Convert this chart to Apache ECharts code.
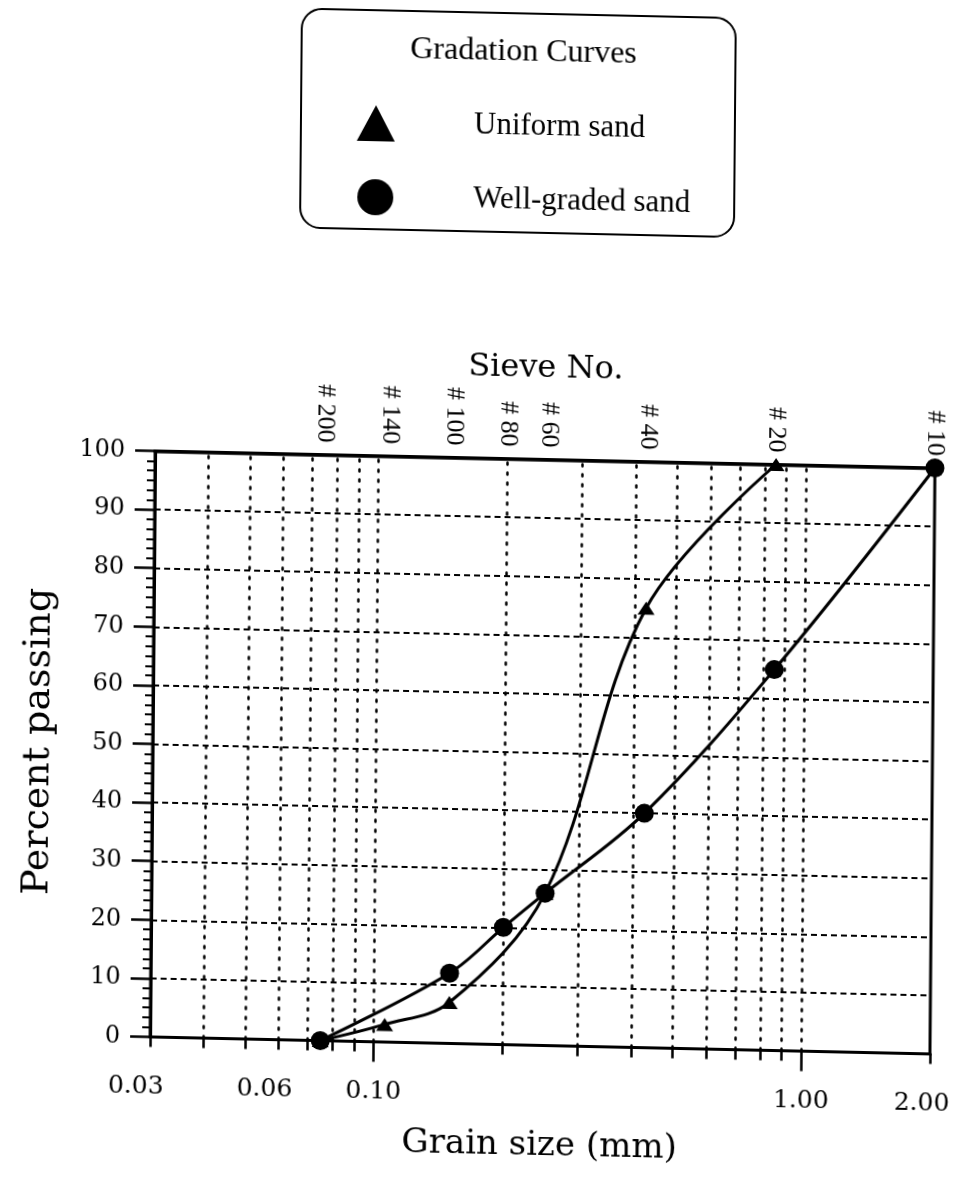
<!DOCTYPE html>
<html>
<head>
<meta charset="utf-8">
<title>Gradation Curves</title>
<script src="https://cdn.jsdelivr.net/npm/echarts@6/dist/echarts.min.js"></script>
<style>
  html, body { margin: 0; padding: 0; background: #fff; overflow: hidden; }
  /* slight tilt, as on the printed sheet */
  #chart { width: 970px; height: 1178px; transform-origin: 0 0; transform: skew(-0.49deg, 1.25deg); }
</style>
</head>
<body>
<div id="chart"></div>
<script>
// Sieve numbers and their openings (mm) along the top axis
const sieveNumbers = ['# 200', '# 140', '# 100', '# 80', '# 60', '# 40', '# 20', '# 10'];
const sieveSizes = [0.075, 0.106, 0.15, 0.2, 0.25, 0.425, 0.85, 2.0];

// Uniform sand: grain size (mm) and percent passing
const uniformSize = [0.075, 0.106, 0.15, 0.25, 0.425, 0.85];
const uniformPassing = [0, 3, 7, 26, 75, 100];

// Well-graded sand: grain size (mm) and percent passing
const wellSize = [0.075, 0.15, 0.2, 0.25, 0.425, 0.85, 2.0];
const wellPassing = [0, 12, 20, 26, 40, 65, 100];

// Grain-size axis labels and ticks
const sizeLabels = [0.03, 0.06, 0.1, 1, 2];
const majorSizeTicks = [0.1, 1];
const minorSizeTicks = [0.03, 0.04, 0.05, 0.06, 0.07, 0.08, 0.09, 0.2, 0.3, 0.4, 0.5, 0.6, 0.7, 0.8, 0.9, 2];
const sizeGridLines = [0.04, 0.05, 0.06, 0.07, 0.08, 0.09, 0.1, 0.2, 0.3, 0.4, 0.5, 0.6, 0.7, 0.8, 0.9, 1];

const SERIF = "'DejaVu Serif', 'Liberation Serif', serif";
const TIMES = "'Liberation Serif', 'DejaVu Serif', serif";

function pairs(xs, ys) { return xs.map((x, i) => [x, ys[i]]); }
function sieveName(v) {
  const i = sieveSizes.findIndex(s => Math.abs(Math.log10(s / v)) < 1e-6);
  return i >= 0 ? sieveNumbers[i] : '';
}
// the small-size labels sit a little left of their ticks, the last one too
function sizeLabel(v) {
  const n = Number(v);
  const key = n < 0.09 ? 'lead' : (n > 1.5 ? 'tail' : 'mid');
  return '{' + key + '|' + n.toFixed(2) + '}';
}
const sizeLabelText = { fontFamily: SERIF, fontSize: 25, color: '#000' };

const logAxisBase = { type: 'log', logBase: 10, min: 0.03, max: 2, gridIndex: 0, splitLine: { show: false } };

const chart = echarts.init(document.getElementById('chart'), null, { renderer: 'canvas' });
chart.setOption({
  animation: false,
  backgroundColor: '#fff',
  title: {
    text: 'Gradation Curves',
    left: 519, top: 20, textAlign: 'center',
    textStyle: { fontFamily: TIMES, fontSize: 32, fontWeight: 'normal', color: '#000' }
  },
  legend: {
    orient: 'vertical', left: 302, top: 2,
    itemWidth: 38, itemHeight: 36, itemGap: 38,
    padding: [95, 44, 14, 56],
    borderColor: '#000', borderWidth: 2, borderRadius: 20,
    selectedMode: false,
    textStyle: { fontFamily: TIMES, fontSize: 31, color: '#000', padding: [0, 0, 0, 74] },
    data: [
      { name: 'Uniform sand', icon: 'triangle' },
      { name: 'Well-graded sand', icon: 'circle' }
    ]
  },
  grid: {
    left: 159, right: 31, top: 447.5, bottom: 144.5,
    outerBoundsMode: 'none', containLabel: false,
    show: true, borderColor: '#000', borderWidth: 3, backgroundColor: 'transparent'
  },
  xAxis: [
    Object.assign({}, logAxisBase, {
      position: 'bottom',
      axisLine: { show: true, lineStyle: { color: '#000', width: 3 } },
      axisTick: { show: true, customValues: minorSizeTicks, length: 10, lineStyle: { color: '#000', width: 2.5 } },
      axisLabel: { show: false },
      name: 'Grain size (mm)', nameLocation: 'middle', nameGap: 84,
      nameTextStyle: { fontFamily: SERIF, fontSize: 34, color: '#000' }
    }),
    Object.assign({}, logAxisBase, {
      position: 'bottom', offset: 0,
      axisLine: { show: false },
      axisTick: { show: true, customValues: majorSizeTicks, length: 20, lineStyle: { color: '#000', width: 2.5 } },
      axisLabel: {
        show: true, customValues: sizeLabels, margin: 37,
        fontFamily: SERIF, fontSize: 25, color: '#000',
        formatter: sizeLabel,
        rich: {
          lead: Object.assign({ padding: [0, 28, 0, 0] }, sizeLabelText),
          mid: Object.assign({}, sizeLabelText),
          tail: Object.assign({ padding: [0, 16, 0, 0] }, sizeLabelText)
        }
      }
    }),
    Object.assign({}, logAxisBase, {
      position: 'top',
      axisLine: { show: true, lineStyle: { color: '#000', width: 3.5 } },
      axisTick: { show: false },
      axisLabel: {
        show: true, customValues: sieveSizes, rotate: 90, margin: 12,
        fontFamily: TIMES, fontSize: 26, color: '#000',
        formatter: v => sieveName(v)
      },
      name: 'Sieve No.', nameLocation: 'middle', nameGap: 73,
      nameTextStyle: { fontFamily: SERIF, fontSize: 32, color: '#000' }
    })
  ],
  yAxis: {
    type: 'value', min: 0, max: 100, interval: 10,
    axisLine: { show: true, lineStyle: { color: '#000', width: 3 } },
    axisTick: { show: true, length: 20, lineStyle: { color: '#000', width: 2.5 } },
    minorTick: { show: true, splitNumber: 6, length: 8, lineStyle: { color: '#000', width: 2 } },
    axisLabel: { margin: 30, fontFamily: SERIF, fontSize: 24, color: '#000' },
    splitLine: { show: true, lineStyle: { color: '#000', width: 2, type: [6, 4] } },
    name: 'Percent passing', nameLocation: 'middle', nameGap: 95,
    nameTextStyle: { fontFamily: SERIF, fontSize: 38, color: '#000' }
  },
  series: [
    {
      name: 'Uniform sand', type: 'line', xAxisIndex: 0,
      data: pairs(uniformSize, uniformPassing),
      smooth: 0.35,
      symbol: 'triangle', symbolSize: [17, 13],
      itemStyle: { color: '#000' },
      lineStyle: { color: '#000', width: 3 },
      z: 3,
      markLine: {
        silent: true, symbol: 'none', label: { show: false },
        lineStyle: { color: '#000', width: 2.5, type: [2, 8], cap: 'round' },
        emphasis: { disabled: true },
        data: sizeGridLines.map(v => ({ xAxis: v }))
      }
    },
    {
      name: 'Well-graded sand', type: 'line', xAxisIndex: 0,
      data: pairs(wellSize, wellPassing),
      smooth: 0.35,
      symbol: 'circle', symbolSize: 19,
      itemStyle: { color: '#000' },
      lineStyle: { color: '#000', width: 3 },
      z: 4
    }
  ]
});
</script>
</body>
</html>
